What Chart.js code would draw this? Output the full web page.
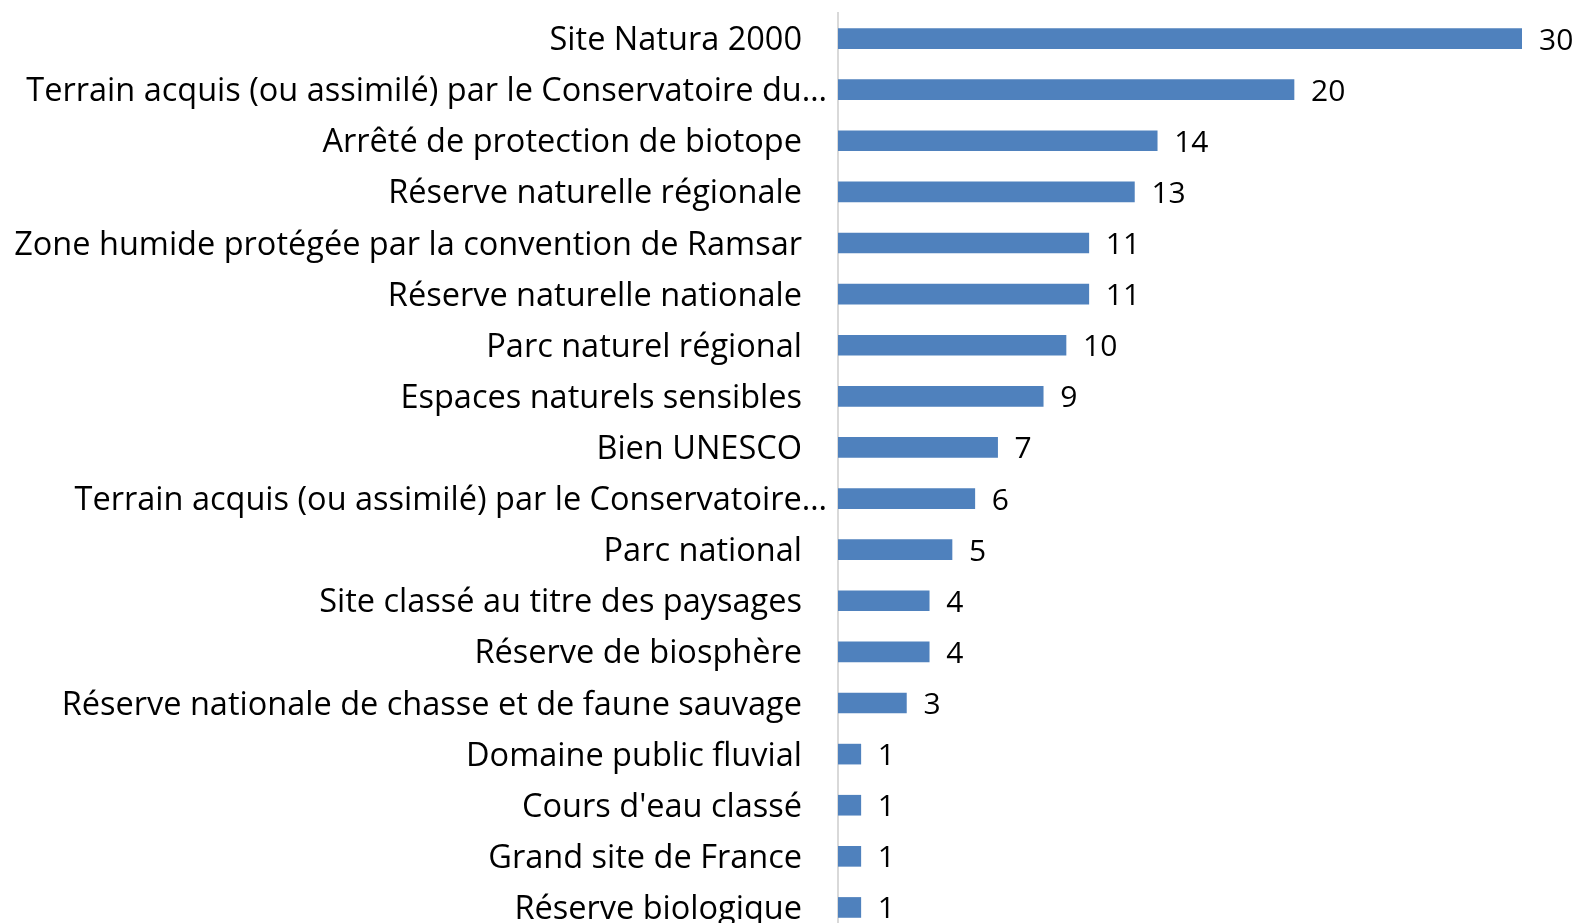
<!DOCTYPE html>
<html>
<head>
<meta charset="utf-8">
<script src="https://cdn.jsdelivr.net/npm/chart.js@4"></script>
<style>
  html, body { margin: 0; padding: 0; background: #fff; overflow: hidden; }
  #wrap { width: 1575px; height: 940px; }
</style>
</head>
<body>
<div id="wrap"><canvas id="chart" width="1575" height="940"></canvas></div>
<script>
const categories = [
  'Site Natura 2000',
  'Terrain acquis (ou assimilé) par le Conservatoire du…',
  'Arrêté de protection de biotope',
  'Réserve naturelle régionale',
  'Zone humide protégée par la convention de Ramsar',
  'Réserve naturelle nationale',
  'Parc naturel régional',
  'Espaces naturels sensibles',
  'Bien UNESCO',
  'Terrain acquis (ou assimilé) par le Conservatoire…',
  'Parc national',
  'Site classé au titre des paysages',
  'Réserve de biosphère',
  'Réserve nationale de chasse et de faune sauvage',
  'Domaine public fluvial',
  "Cours d'eau classé",
  'Grand site de France',
  'Réserve biologique'
];
const counts = [30, 20, 14, 13, 11, 11, 10, 9, 7, 6, 5, 4, 4, 3, 1, 1, 1, 1];
const xMax = 30;

const LABEL_FONT = '32.5px "Open Sans"';
const VALUE_FONT = '30px "Open Sans"';

// category labels, right aligned next to the axis (truncated ones sit a bit further right)
const categoryLabels = {
  id: 'categoryLabels',
  afterDraw(chart) {
    const ctx = chart.ctx;
    const y = chart.scales.y;
    ctx.save();
    ctx.font = LABEL_FONT;
    ctx.fillStyle = '#000';
    ctx.textAlign = 'right';
    ctx.textBaseline = 'alphabetic';
    categories.forEach((c, i) => {
      const py = y.getPixelForTick(i);
      const px = c.endsWith('…') ? 827 : 802;
      ctx.fillText(c, px, py + 11.5);
    });
    ctx.restore();
  }
};

// value labels at the end of each bar
const valueLabels = {
  id: 'valueLabels',
  afterDatasetsDraw(chart) {
    const ctx = chart.ctx;
    const meta = chart.getDatasetMeta(0);
    ctx.save();
    ctx.font = VALUE_FONT;
    ctx.fillStyle = '#000';
    ctx.textAlign = 'left';
    ctx.textBaseline = 'alphabetic';
    meta.data.forEach((bar, i) => {
      ctx.fillText(String(counts[i]), bar.x + 17, bar.y + 11);
    });
    ctx.restore();
  }
};

new Chart(document.getElementById('chart'), {
  type: 'bar',
  data: {
    labels: categories,
    datasets: [{
      data: counts,
      backgroundColor: '#4f81bd',
      borderWidth: 0,
      barThickness: 20
    }]
  },
  options: {
    indexAxis: 'y',
    responsive: false,
    animation: false,
    layout: { padding: { top: 13, right: 53, bottom: 7, left: 0 } },
    plugins: {
      legend: { display: false },
      tooltip: { enabled: false }
    },
    scales: {
      x: {
        min: 0,
        max: xMax,
        display: false
      },
      y: {
        grid: { display: false },
        border: { display: true, color: '#d9d9d9', width: 2 },
        ticks: { display: false },
        afterFit(scale) { scale.width = 838; }
      }
    }
  },
  plugins: [categoryLabels, valueLabels]
});
</script>
</body>
</html>
